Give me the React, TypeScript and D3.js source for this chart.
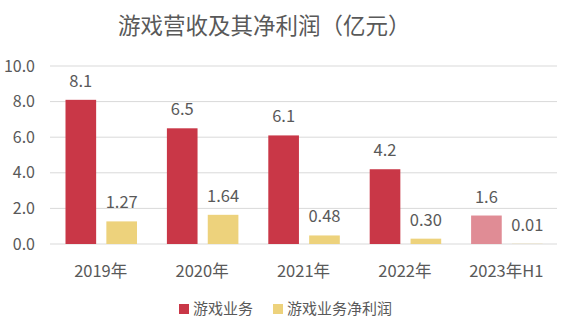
import React from "react";
import * as d3 from "d3";

const categories = ["2019年", "2020年", "2021年", "2022年", "2023年H1"];
const revenue = [8.1, 6.5, 6.1, 4.2, 1.6];
const profit = [1.27, 1.64, 0.48, 0.3, 0.01];
const revenueLabels = ["8.1", "6.5", "6.1", "4.2", "1.6"];
const profitLabels = ["1.27", "1.64", "0.48", "0.30", "0.01"];
const yTicks = [0, 2, 4, 6, 8, 10];
const seriesNames = ["游戏业务", "游戏业务净利润"];
const title = "游戏营收及其净利润（亿元）";

const RED = "#C93747";
const PINK = "#E08C95";
const YELLOW = "#EDD27C";
const TEXT = "#595959";
const FONT = "'Noto Sans CJK SC', 'Noto Sans', sans-serif";

export default function App() {
  const W = 566, H = 329;
  const left = 50, right = 557, top = 66, bottom = 244;
  const x = d3.scaleBand<string>().domain(categories).range([left, right]).paddingInner(0).paddingOuter(0);
  const sub = d3.scaleBand<string>().domain(["rev", "pro"]).range([15.5, 87]).paddingInner(0.25).paddingOuter(0);
  const y = d3.scaleLinear().domain([0, 10]).range([bottom, top]);

  return (
    <svg width={W} height={H} style={{ position: "absolute", left: 0, top: 0, background: "#fff" }} fontFamily={FONT}>
      <text x={118} y={34} fontSize={22.5} fill={TEXT}>{title}</text>
      {yTicks.map((t) => (
        <g key={t}>
          <line x1={left} x2={right} y1={y(t)} y2={y(t)} stroke="#D9D9D9" strokeWidth={1} />
          <text x={35} y={y(t)} dy="0.35em" textAnchor="end" fontSize={16} fill={TEXT}>{t.toFixed(1)}</text>
        </g>
      ))}
      {categories.map((c, i) => {
        const bx = x(c)!;
        const rx = bx + sub("rev")!;
        const px = bx + sub("pro")!;
        const bw = sub.bandwidth();
        return (
          <g key={c}>
            <rect x={rx} y={y(revenue[i])} width={bw} height={y(0) - y(revenue[i])} fill={i === categories.length - 1 ? PINK : RED} />
            <rect x={px} y={y(profit[i])} width={bw} height={y(0) - y(profit[i])} fill={YELLOW} />
            <text x={rx + bw / 2} y={y(revenue[i]) - 13} textAnchor="middle" fontSize={16.5} fill={TEXT}>{revenueLabels[i]}</text>
            <text x={px + bw / 2} y={y(profit[i]) - 13} textAnchor="middle" fontSize={16.5} fill={TEXT}>{profitLabels[i]}</text>
            <text x={bx + x.bandwidth() / 2} y={271} dy="0.35em" textAnchor="middle" fontSize={16.5} fill={TEXT}>{c}</text>
          </g>
        );
      })}
      <g>
        <rect x={179} y={304} width={10} height={10} fill={RED} />
        <text x={193} y={309} dy="0.35em" fontSize={15} fill={TEXT}>{seriesNames[0]}</text>
        <rect x={273} y={304} width={10} height={10} fill={YELLOW} />
        <text x={287} y={309} dy="0.35em" fontSize={15} fill={TEXT}>{seriesNames[1]}</text>
      </g>
    </svg>
  );
}
